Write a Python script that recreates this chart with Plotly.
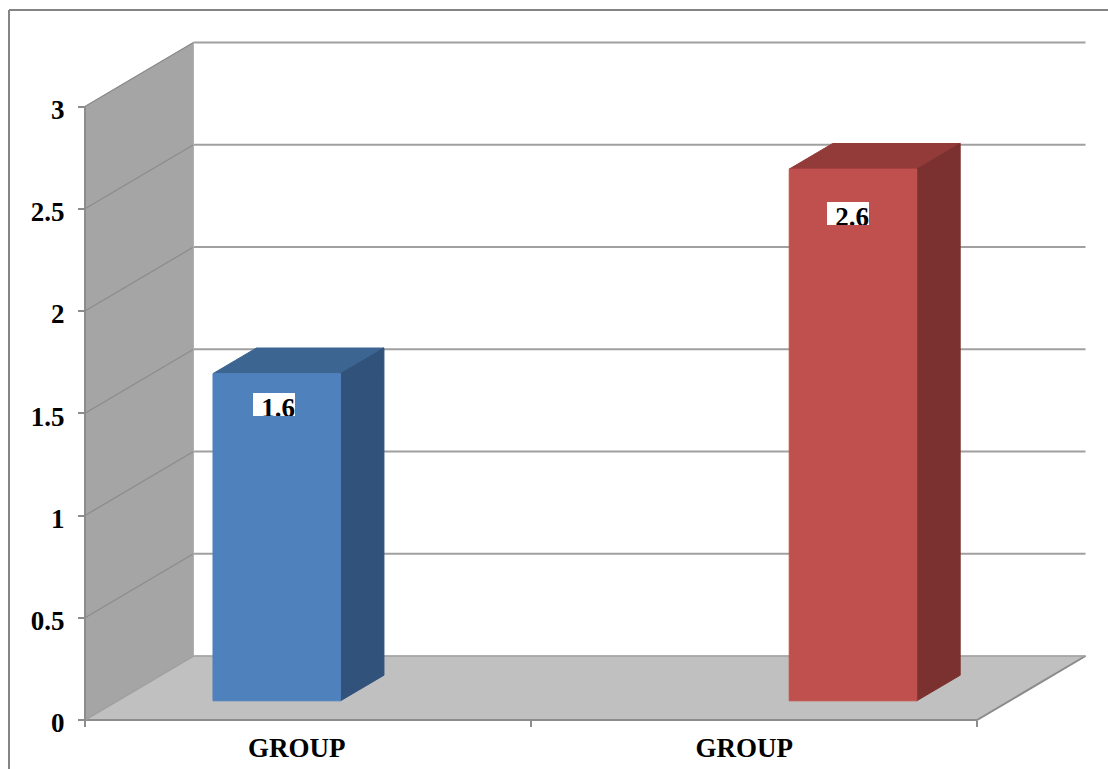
import plotly.graph_objects as go

# Chart data
categories = ["GROUP", "GROUP"]
series_values = [1.6, 2.6]
series_colors = [
    {"front": "#4f81bd", "top": "#3d6592", "side": "#31527b"},
    {"front": "#c0504d", "top": "#933b39", "side": "#7b3130"},
]
y_ticks = [0, 0.5, 1, 1.5, 2, 2.5, 3]
y_tick_labels = ["0", "0.5", "1", "1.5", "2", "2.5", "3"]

# Plot geometry
WIDTH, HEIGHT = 1108, 769
X0_PX, X_UNIT_PX = 85.0, 446.0
Y0_PX, Y_UNIT_PX = 720.0, 204.5
DEPTH_X = 108.5 / X_UNIT_PX   # horizontal shift of the back wall, in x units
DEPTH_Y = 64.0 / Y_UNIT_PX    # vertical shift of the back wall, in y units
BAR_DEPTH = (0.3, 0.7)
BAR_SPANS = [(0.214, 0.500), (1.506, 1.792)]
LABEL_DROP = [0.058, 0.123]
LABEL_CENTER = [0.423, 1.710]

GRID = "#a0a0a0"
EDGE = "#8c8c8c"
WALL = "#a5a5a5"
FLOOR = "#c0c0c0"
FONT = "Liberation Serif"


def project(x, value, depth):
    """Oblique projection of (category position, value, depth) onto the plane."""
    return x + depth * DEPTH_X, value + depth * DEPTH_Y


def polygon(corners, fill, line=None):
    pts = [project(*c) for c in corners]
    xs = [p[0] for p in pts] + [pts[0][0]]
    ys = [p[1] for p in pts] + [pts[0][1]]
    return go.Scatter(
        x=xs, y=ys, mode="lines", fill="toself", fillcolor=fill,
        line=dict(color=line or fill, width=1),
        hoverinfo="skip", showlegend=False,
    )


def segment(corners, color=GRID, width=1.6):
    pts = [project(*c) for c in corners]
    return go.Scatter(
        x=[p[0] for p in pts], y=[p[1] for p in pts], mode="lines",
        line=dict(color=color, width=width),
        hoverinfo="skip", showlegend=False,
    )


fig = go.Figure()

x_end = float(len(categories))
y_top = y_ticks[-1]

# Side wall and floor
fig.add_trace(polygon([(0, 0, 0), (0, y_top, 0), (0, y_top, 1), (0, 0, 1)], WALL))
fig.add_trace(polygon([(0, 0, 0), (x_end, 0, 0), (x_end, 0, 1), (0, 0, 1)], FLOOR))

# Gridlines run along the side wall and across the back wall
for v in y_ticks:
    if v == 0:
        continue
    fig.add_trace(segment([(0, v, 0), (0, v, 1)], EDGE, 1.3))
    fig.add_trace(segment([(0, v, 1), (x_end, v, 1)], GRID, 2))

# Floor and wall edges
fig.add_trace(segment([(0, 0, 0), (x_end, 0, 0), (x_end, 0, 1)], EDGE, 2))
fig.add_trace(segment([(x_end, 0, 1), (0, 0, 1), (0, 0, 0)], GRID))
fig.add_trace(segment([(0, 0, 0), (0, y_top, 0)], EDGE, 2))
fig.add_trace(segment([(0, 0, 1), (0, y_top, 1)], "#b0b0b0", 1))

# Bars: top, side, then front face
for (left, right), value, colors in zip(BAR_SPANS, series_values, series_colors):
    d0, d1 = BAR_DEPTH
    fig.add_trace(polygon([(left, value, d0), (right, value, d0),
                           (right, value, d1), (left, value, d1)], colors["top"]))
    fig.add_trace(polygon([(right, 0, d0), (right, value, d0),
                           (right, value, d1), (right, 0, d1)], colors["side"]))
    fig.add_trace(polygon([(left, 0, d0), (right, 0, d0),
                           (right, value, d0), (left, value, d0)], colors["front"]))

# Value labels on white plates, text cut off by the plate's lower edge
annotations = [
    dict(
        x=cx, y=value - drop, xref="x", yref="y",
        text=str(value), showarrow=False,
        width=42, height=23, align="right", valign="top",
        bgcolor="#ffffff", borderpad=0, borderwidth=0,
        font=dict(family=FONT, size=27, color="#000000", weight=700),
    )
    for cx, value, drop in zip(LABEL_CENTER, series_values, LABEL_DROP)
]

fig.update_layout(
    width=WIDTH, height=HEIGHT,
    margin=dict(l=0, r=0, t=0, b=0),
    paper_bgcolor="#ffffff", plot_bgcolor="#ffffff",
    showlegend=False, hovermode=False,
    annotations=annotations,
    shapes=[
        # Outer chart frame
        dict(type="line", xref="paper", yref="paper", x0=9 / WIDTH, x1=1,
             y0=1 - 10 / HEIGHT, y1=1 - 10 / HEIGHT,
             line=dict(color="#858585", width=2)),
        dict(type="line", xref="paper", yref="paper", x0=9 / WIDTH, x1=9 / WIDTH,
             y0=0, y1=1 - 10 / HEIGHT,
             line=dict(color="#858585", width=2)),
    ],
    xaxis=dict(
        range=[-X0_PX / X_UNIT_PX, (WIDTH - X0_PX) / X_UNIT_PX],
        domain=[0, 1], anchor="free", position=1 - Y0_PX / HEIGHT,
        showgrid=False, zeroline=False, showline=False,
        tickmode="array", tickvals=[0.475, 1.478], ticktext=categories,
        ticks="", ticklabelstandoff=9,
        tickfont=dict(family=FONT, size=27, color="#000000", weight=700),
        minor=dict(tickmode="array", tickvals=[0, 1, 2], ticks="outside",
                   ticklen=6, tickwidth=1.5, tickcolor=EDGE, showgrid=False),
    ),
    yaxis=dict(
        range=[-(HEIGHT - Y0_PX) / Y_UNIT_PX, Y0_PX / Y_UNIT_PX],
        domain=[0, 1], anchor="free", position=X0_PX / WIDTH,
        showgrid=False, zeroline=False, showline=False,
        tickmode="array", tickvals=y_ticks, ticktext=y_tick_labels,
        ticks="outside", ticklen=7, tickwidth=1.5, tickcolor=EDGE,
        ticklabelstandoff=8, ticklabelshift=3,
        tickfont=dict(family=FONT, size=27, color="#000000", weight=700),
    ),
)

fig.write_html("out.html", config={"displayModeBar": False})
